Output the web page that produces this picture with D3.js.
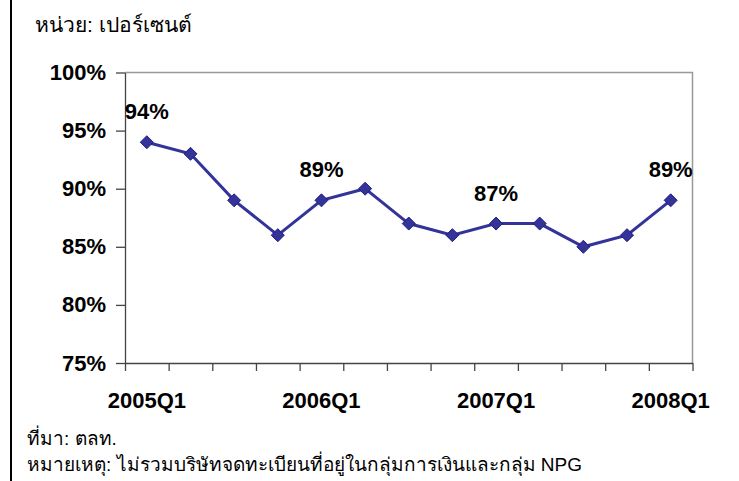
<!DOCTYPE html>
<html lang="th">
<head>
  <meta charset="utf-8">
  <title>หน่วย: เปอร์เซนต์</title>
  <style>
    body {
      margin: 0;
      background: #fff;
      overflow: hidden;
    }

    text {
      font-family: "Liberation Sans", Arial, sans-serif;
    }

    .axis path, .axis line {
      stroke: #444;
      stroke-width: 1.3px;
    }

    .axis text {
      font-size: 22px;
      font-weight: bold;
      fill: #000;
    }

    .note {
      font-size: 19px;
      fill: #000;
    }
  </style>
</head>
<body>
  <svg width="739" height="481"></svg>
  <script src="https://cdn.jsdelivr.net/npm/d3@7"></script>
  <script>

  // quarters 2005Q1 .. 2008Q1
  var quarters = ["2005Q1", "2005Q2", "2005Q3", "2005Q4",
                  "2006Q1", "2006Q2", "2006Q3", "2006Q4",
                  "2007Q1", "2007Q2", "2007Q3", "2007Q4",
                  "2008Q1"];
  var values = [94, 93, 89, 86, 89, 90, 87, 86, 87, 87, 85, 86, 89];
  var shownLabels = ["2005Q1", "2006Q1", "2007Q1", "2008Q1"];
  var yTicks = [75, 80, 85, 90, 95, 100];

  var svg = d3.select("svg");

  // plot box (note: "top" is taken by window.top)
  var pLeft = 125, pRight = 692.5, pTop = 72.5, pBottom = 363;

  var x = d3.scaleBand()
      .domain(quarters)
      .range([pLeft, pRight]);

  // band edges for the small tick marks
  var xEdge = d3.scaleLinear()
      .domain([0, quarters.length])
      .range([pLeft, pRight]);

  var y = d3.scaleLinear()
      .domain([75, 100])
      .range([pBottom, pTop]);

  // left page border
  svg.append("line")
      .attr("x1", 11).attr("x2", 11)
      .attr("y1", 0).attr("y2", 481)
      .attr("stroke", "#000")
      .attr("stroke-width", 2);

  // plot frame, top and right
  svg.append("path")
      .attr("d", "M" + pLeft + "," + pTop + "H" + pRight + "V" + pBottom)
      .attr("fill", "none")
      .attr("stroke", "#999")
      .attr("stroke-width", 1.5);

  svg.append("g")
      .attr("class", "axis")
      .attr("transform", "translate(" + pLeft + ",0)")
      .call(d3.axisLeft(y)
        .tickValues(yTicks)
        .tickSize(9)
        .tickSizeOuter(0)
        .tickPadding(10)
        .tickFormat(function(d) { return d + "%"; }));

  svg.append("g")
      .attr("class", "axis")
      .attr("transform", "translate(0," + pBottom + ")")
      .call(d3.axisBottom(xEdge)
        .tickValues(d3.range(quarters.length + 1))
        .tickSize(8)
        .tickSizeOuter(0)
        .tickFormat(""));

  var xLab = svg.append("g")
      .attr("class", "axis")
      .attr("transform", "translate(0," + pBottom + ")")
      .call(d3.axisBottom(x)
        .tickSize(0)
        .tickPadding(29)
        .tickFormat(function(d) { return shownLabels.indexOf(d) >= 0 ? d : ""; }));
  xLab.select(".domain").remove();

  var pts = quarters.map(function(q, i) { return {q: q, v: values[i]}; });
  var cx = function(d) { return x(d.q) + x.bandwidth() / 2; };

  svg.append("path")
      .datum(pts)
      .attr("fill", "none")
      .attr("stroke", "#333399")
      .attr("stroke-width", 3)
      .attr("d", d3.line().x(cx).y(function(d) { return y(d.v); }));

  svg.selectAll(".mark")
      .data(pts)
      .enter().append("path")
      .attr("class", "mark")
      .attr("d", "M0,-6.5L6.5,0L0,6.5L-6.5,0Z")
      .attr("transform", function(d) { return "translate(" + cx(d) + "," + y(d.v) + ")"; })
      .attr("fill", "#333399")
      .attr("stroke", "#1f1f80")
      .attr("stroke-width", 1);

  svg.selectAll(".val")
      .data(pts.filter(function(d) { return shownLabels.indexOf(d.q) >= 0; }))
      .enter().append("text")
      .attr("class", "val")
      .attr("x", cx)
      .attr("y", function(d) { return y(d.v) - 23; })
      .attr("text-anchor", "middle")
      .style("font-size", "22px")
      .style("font-weight", "bold")
      .text(function(d) { return d.v + "%"; });

  svg.append("text")
      .attr("class", "note")
      .attr("x", 35).attr("y", 32)
      .style("font-size", "21px")
      .text("หน่วย: เปอร์เซนต์");

  svg.append("text")
      .attr("class", "note")
      .attr("x", 27).attr("y", 445)
      .text("ที่มา: ตลท.");

  svg.append("text")
      .attr("class", "note")
      .attr("x", 27).attr("y", 471)
      .text("หมายเหตุ: ไม่รวมบริษัทจดทะเบียนที่อยู่ในกลุ่มการเงินและกลุ่ม NPG");

  </script>
</body>
</html>
